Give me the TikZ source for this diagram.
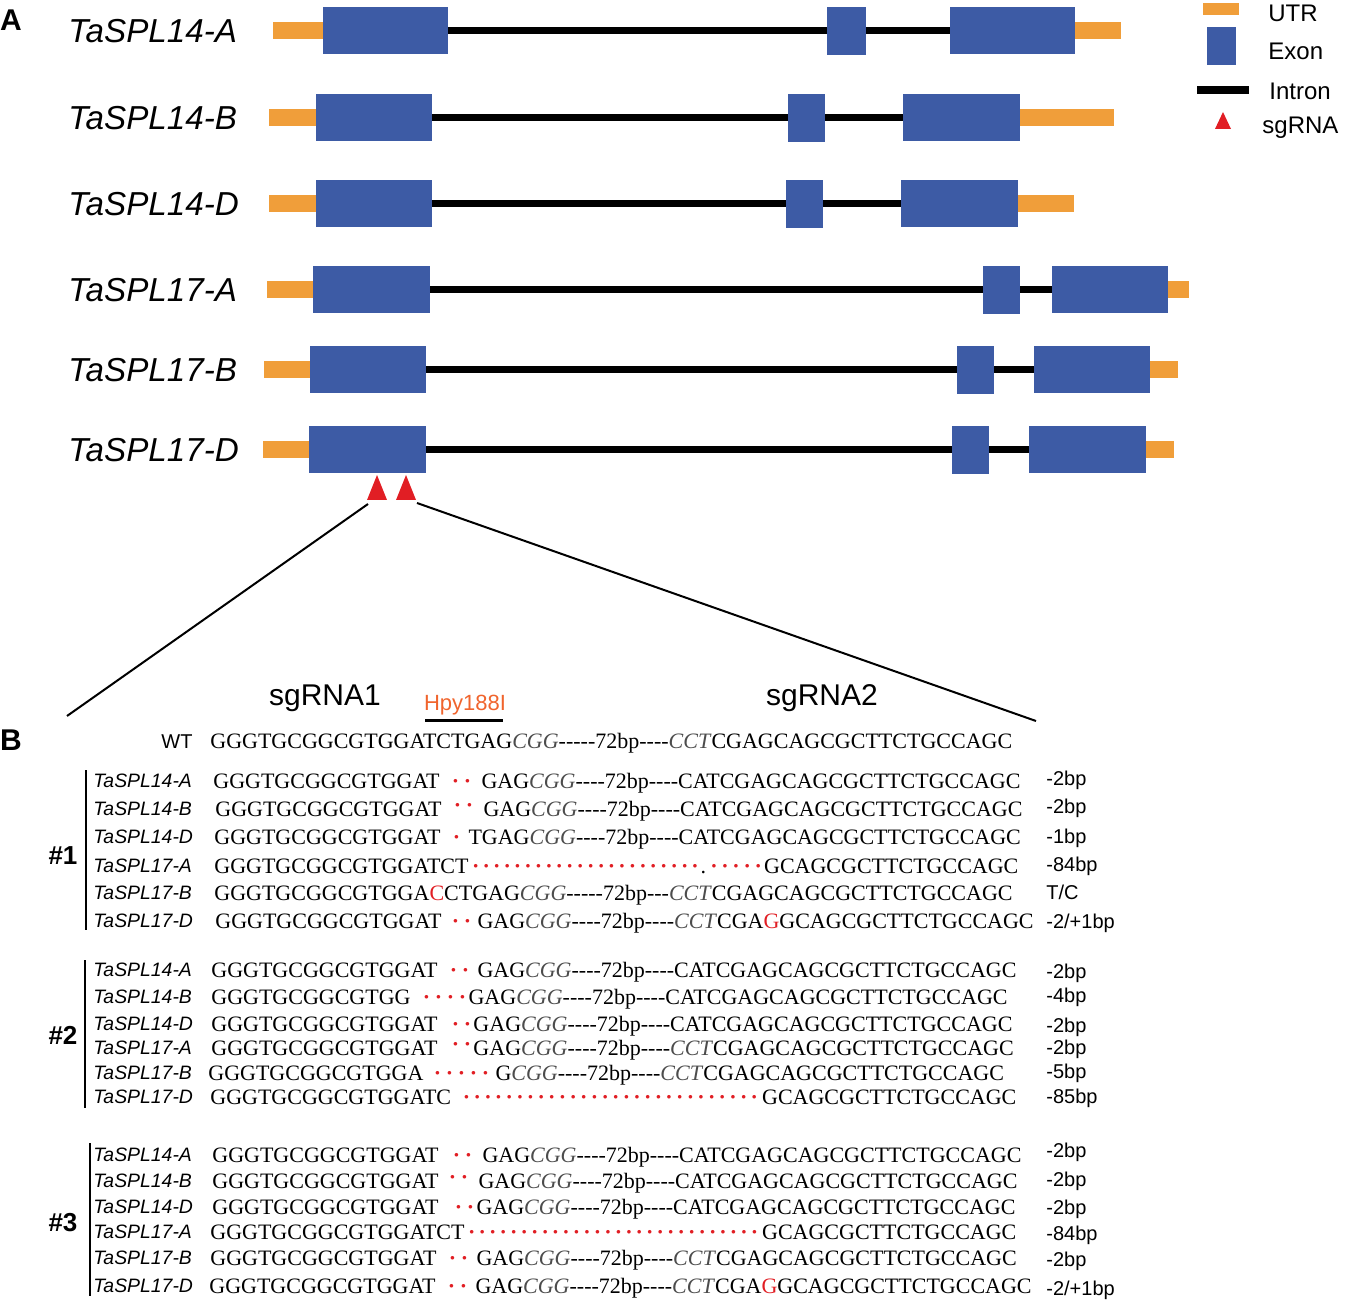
\documentclass[tikz,border=0pt]{standalone}
\usepackage{fontspec}
\setmainfont{Liberation Serif}
\setsansfont{Liberation Sans}
\definecolor{utrorange}{RGB}{240,158,58}
\definecolor{exonblue}{RGB}{61,91,165}
\definecolor{sgred}{RGB}{225,30,36}
\definecolor{hpyorange}{RGB}{240,100,45}
\definecolor{pamgray}{gray}{0.3}
\newcommand\pam[1]{\textcolor{pamgray}{\textit{#1}}}
\newcommand\rdot{\makebox[6pt]{\textcolor{sgred}{\textbf{\textperiodcentered}}}}
\newcommand\rdots[2][0pt]{\foreach\i in {1,...,#2}{\raisebox{#1}{\rdot}}}
\newcommand\hy[1]{\foreach\i in {1,...,#1}{-\kern0pt}}
\newcommand\bpgap[2]{\hy{#1}72bp\hy{#2}}
\newcommand\delrun[1]{\textcolor{sgred}{\xleaders\hbox to 5.2pt{\hss\textbf{\textperiodcentered}\hss}\hskip #1}}
\newcommand\mutrow[7]{%
  \node[lname] (n#1) at (93,#2) {#3};
  \node[seqtext] (q#1) at (#4,#2) {#5};
  \node[chg] (c#1) at (1046,#7) {#6};
}
\tikzset{
  utr/.style={fill=utrorange},
  exon/.style={fill=exonblue},
  intron/.style={line width=3.5pt},
  sgtri/.style={fill=sgred},
  zoomline/.style={line width=1pt},
  gene/.style={anchor=west, inner sep=0pt, text height=11.9pt, text depth=0pt, font=\sffamily\itshape\fontsize{16.6}{18}\selectfont},
  panel/.style={inner sep=0pt, font=\sffamily\bfseries\fontsize{15}{16}\selectfont},
  legend/.style={anchor=west, inner sep=0pt, text height=8.6pt, text depth=0pt, font=\sffamily\fontsize{12}{14}\selectfont},
  guide/.style={inner sep=0pt, text height=10.7pt, text depth=0pt, font=\sffamily\fontsize{15}{17}\selectfont},
  hpy/.style={inner sep=0pt, text height=7.9pt, text depth=0pt, text=hpyorange, font=\sffamily\fontsize{11}{13}\selectfont},
  lname/.style={anchor=west, inner sep=0pt, text height=6.9pt, text depth=0pt, font=\sffamily\itshape\fontsize{9.7}{11}\selectfont},
  seqtext/.style={anchor=west, inner sep=0pt, text height=7.3pt, text depth=0pt, font=\fontsize{11}{13}\selectfont},
  chg/.style={anchor=west, inner sep=0pt, text height=7.2pt, text depth=0pt, font=\sffamily\fontsize{10}{12}\selectfont},
  hash/.style={inner sep=0pt, text height=9.4pt, text depth=0pt, font=\sffamily\bfseries\fontsize{13}{15}\selectfont},
}
\begin{document}
\begin{tikzpicture}[x=0.5pt,y=-0.5pt]
\useasboundingbox (0,0) rectangle (1346,1305);

\node[panel] (pa) at (11,20) {A};
\node[panel] (pb) at (11,740) {B};

\foreach \y/\ua/\ea/\eb/\ec/\ed/\ee/\ef/\ub/\nm [count=\k] in {
  31/273/323/448/827/866/950/1075/1121/TaSPL14-A,
  118/269/316/432/788/825/903/1020/1114/TaSPL14-B,
  204/269/316/432/786/823/901/1018/1074/TaSPL14-D,
  290/267/313/430/983/1020/1052/1168/1189/TaSPL17-A,
  370/264/310/426/957/994/1034/1150/1178/TaSPL17-B,
  450/263/309/426/952/989/1029/1146/1174/TaSPL17-D}{
  \draw[intron] (\eb,\y) -- (\ee,\y);
  \fill[utr] (\ua,\y-8.5) rectangle (\ea,\y+8.5);
  \fill[utr] (\ef,\y-8.5) rectangle (\ub,\y+8.5);
  \fill[exon] (\ea,\y-23.5) rectangle (\eb,\y+23.5);
  \fill[exon] (\ec,\y-24) rectangle (\ed,\y+24);
  \fill[exon] (\ee,\y-23.5) rectangle (\ef,\y+23.5);
  \node[gene] (g\k) at (68,\y) {\nm};
}

\fill[sgtri] (367,500) -- (377,475) -- (387,500) -- cycle;
\fill[sgtri] (396,500) -- (406,475) -- (416,500) -- cycle;
\coordinate (t1) at (368,504);
\coordinate (t2) at (417,503);
\coordinate (b1) at (67,716);
\coordinate (b2) at (1036,721);
\draw[zoomline] (t1) -- (b1);
\draw[zoomline] (t2) -- (b2);

\fill[utr] (1203,3) rectangle (1239,15);
\node[legend] (lu) at (1268,13) {UTR};
\fill[exon] (1207,27) rectangle (1236,65);
\node[legend] (le) at (1268,51) {Exon};
\draw[line width=4pt] (1197,90) -- (1249,90);
\node[legend] (li) at (1269,91) {Intron};
\fill[sgtri] (1215,129) -- (1223,112) -- (1231,129) -- cycle;
\node[legend] (ls) at (1262,125) {sgRNA};

\node[guide] (sg1) at (325,695) {sgRNA1};
\node[guide] (sg2) at (822,695) {sgRNA2};
\node[hpy] (hpy) at (465,703) {Hpy188I};
\draw[line width=1.5pt] (425,720) -- (503,720);

\node[chg] (wtl) at (161,741) {WT};
\node[seqtext] (wt) at (210,741) {GGGTGCGGCGTGGATCTGAG\pam{CGG}\bpgap{5}{4}\pam{CCT}CGAGCAGCGCTTCTGCCAGC};

\draw[line width=1pt] (86,770) -- (86,930);
\draw[line width=1pt] (85,960) -- (85,1108);
\draw[line width=1pt] (90,1143) -- (90,1296);
\node[hash] (h1) at (63,855) {\#1};
\node[hash] (h2) at (63,1035) {\#2};
\node[hash] (h3) at (63,1222) {\#3};

\mutrow{1a}{781}{TaSPL14-A}{213}{GGGTGCGGCGTGGAT\hspace{5pt}\rdots{2}\hspace{4pt}GAG\pam{CGG}\bpgap{4}{4}CATCGAGCAGCGCTTCTGCCAGC}{-2bp}{778}
\mutrow{1b}{809}{TaSPL14-B}{215}{GGGTGCGGCGTGGAT\hspace{5pt}\rdots[2pt]{2}\hspace{4pt}GAG\pam{CGG}\bpgap{4}{4}CATCGAGCAGCGCTTCTGCCAGC}{-2bp}{806}
\mutrow{1c}{837}{TaSPL14-D}{214}{GGGTGCGGCGTGGAT\hspace{5pt}\rdots{1}\hspace{3pt}TGAG\pam{CGG}\bpgap{4}{4}CATCGAGCAGCGCTTCTGCCAGC}{-1bp}{836}
\mutrow{1d}{866}{TaSPL17-A}{214}{\hbox to 402pt{GGGTGCGGCGTGGATCT\kern1pt\delrun{0pt plus 1fill}.\kern1pt\delrun{28pt}GCAGCGCTTCTGCCAGC}}{-84bp}{864}
\mutrow{1e}{893}{TaSPL17-B}{214}{GGGTGCGGCGTGGA\textcolor{sgred}{C}CTGAG\pam{CGG}\bpgap{5}{3}\pam{CCT}CGAGCAGCGCTTCTGCCAGC}{T/C}{892}
\mutrow{1f}{921}{TaSPL17-D}{215}{GGGTGCGGCGTGGAT\hspace{4pt}\rdots{2}\hspace{2pt}GAG\pam{CGG}\bpgap{4}{4}\pam{CCT}CGA\textcolor{sgred}{G}GCAGCGCTTCTGCCAGC}{-2/+1bp}{921}

\mutrow{2a}{970}{TaSPL14-A}{211}{GGGTGCGGCGTGGAT\hspace{5pt}\rdots{2}\hspace{3pt}GAG\pam{CGG}\bpgap{4}{4}CATCGAGCAGCGCTTCTGCCAGC}{-2bp}{971}
\mutrow{2b}{997}{TaSPL14-B}{211}{GGGTGCGGCGTGG\hspace{5pt}\rdots{4}GAG\pam{CGG}\bpgap{4}{4}CATCGAGCAGCGCTTCTGCCAGC}{-4bp}{995}
\mutrow{2c}{1024}{TaSPL14-D}{211}{GGGTGCGGCGTGGAT\hspace{6pt}\rdots{2}GAG\pam{CGG}\bpgap{4}{4}CATCGAGCAGCGCTTCTGCCAGC}{-2bp}{1025}
\mutrow{2d}{1048}{TaSPL17-A}{211}{GGGTGCGGCGTGGAT\hspace{6pt}\rdots[2pt]{2}GAG\pam{CGG}\bpgap{4}{4}\pam{CCT}CGAGCAGCGCTTCTGCCAGC}{-2bp}{1047}
\mutrow{2e}{1073}{TaSPL17-B}{208}{GGGTGCGGCGTGGA\hspace{4pt}\rdots{5}\hspace{2pt}G\pam{CGG}\bpgap{4}{4}\pam{CCT}CGAGCAGCGCTTCTGCCAGC}{-5bp}{1071}
\mutrow{2f}{1097}{TaSPL17-D}{210}{\hbox to 403pt{GGGTGCGGCGTGGATC\kern5pt\delrun{0pt plus 1fill}\kern1pt GCAGCGCTTCTGCCAGC}}{-85bp}{1096}

\mutrow{3a}{1155}{TaSPL14-A}{212}{GGGTGCGGCGTGGAT\hspace{6pt}\rdots{2}\hspace{4pt}GAG\pam{CGG}\bpgap{4}{4}CATCGAGCAGCGCTTCTGCCAGC}{-2bp}{1150}
\mutrow{3b}{1181}{TaSPL14-B}{212}{GGGTGCGGCGTGGAT\hspace{4pt}\rdots[2pt]{2}\hspace{4pt}GAG\pam{CGG}\bpgap{4}{4}CATCGAGCAGCGCTTCTGCCAGC}{-2bp}{1179}
\mutrow{3c}{1207}{TaSPL14-D}{212}{GGGTGCGGCGTGGAT\hspace{7pt}\rdots{2}GAG\pam{CGG}\bpgap{4}{4}CATCGAGCAGCGCTTCTGCCAGC}{-2bp}{1207}
\mutrow{3d}{1232}{TaSPL17-A}{210}{\hbox to 403pt{GGGTGCGGCGTGGATCT\kern1pt\delrun{0pt plus 1fill}\kern1pt GCAGCGCTTCTGCCAGC}}{-84bp}{1233}
\mutrow{3e}{1258}{TaSPL17-B}{210}{GGGTGCGGCGTGGAT\hspace{5pt}\rdots{2}\hspace{3pt}GAG\pam{CGG}\bpgap{4}{4}\pam{CCT}CGAGCAGCGCTTCTGCCAGC}{-2bp}{1259}
\mutrow{3f}{1286}{TaSPL17-D}{209}{GGGTGCGGCGTGGAT\hspace{5pt}\rdots{2}\hspace{3pt}GAG\pam{CGG}\bpgap{4}{4}\pam{CCT}CGA\textcolor{sgred}{G}GCAGCGCTTCTGCCAGC}{-2/+1bp}{1288}
\end{tikzpicture}
\end{document}
